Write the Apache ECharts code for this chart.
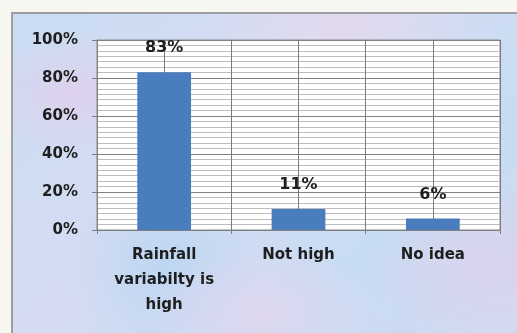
<!DOCTYPE html>
<html>
<head>
<meta charset="utf-8">
<script src="https://cdn.jsdelivr.net/npm/echarts@6/dist/echarts.min.js"></script>
<style>
  html, body { margin: 0; padding: 0; background: #f7f6f0; }
  #wrap { position: relative; width: 517px; height: 333px; overflow: hidden; }
  #frame {
    position: absolute; left: 11px; top: 12px; width: 520px; height: 330px;
    border-left: 2px solid #9c9ea4; border-top: 2px solid #9c9ea4;
    background:
      radial-gradient(ellipse 90px 60px at 60px 80px, rgba(226, 206, 236, 0.8), rgba(226, 206, 236, 0)),
      radial-gradient(ellipse 120px 70px at 250px 300px, rgba(232, 214, 238, 0.7), rgba(232, 214, 238, 0)),
      radial-gradient(ellipse 110px 80px at 470px 250px, rgba(224, 208, 236, 0.7), rgba(224, 208, 236, 0)),
      radial-gradient(ellipse 140px 60px at 330px 10px, rgba(236, 216, 236, 0.6), rgba(236, 216, 236, 0)),
      radial-gradient(ellipse 100px 90px at 150px 250px, rgba(180, 212, 242, 0.7), rgba(180, 212, 242, 0)),
      linear-gradient(135deg, #c9dcf2 0%, #d6dcf2 40%, #c7dcf3 70%, #d3d9f0 100%);
  }
  #chart { position: absolute; left: 0; top: 0; width: 517px; height: 333px; }
</style>
</head>
<body>
<div id="wrap">
  <div id="frame"></div>
  <div id="chart"></div>
</div>
<script>
// Survey responses on rainfall variability
const categories = ['Rainfall\nvariabilty is\nhigh', 'Not high', 'No idea'];
const shares = [83, 11, 6];
const yTicks = [0, 20, 40, 60, 80, 100];
// half-category slots used only to draw the vertical gridlines
const gridSlots = ['a', 'b', 'c', 'd', 'e', 'f'];

const font = 'DejaVu Sans';
const chart = echarts.init(document.getElementById('chart'), null, { renderer: 'canvas' });

chart.setOption({
  backgroundColor: 'transparent',
  animation: false,
  grid: {
    left: 97, top: 40, right: 17, bottom: 103,
    show: true, backgroundColor: '#ffffff', borderColor: '#8a8a8a', borderWidth: 1
  },
  xAxis: [
    {
      type: 'category',
      data: categories,
      axisLine: { show: true, lineStyle: { color: '#808080' } },
      axisTick: { show: true, length: 4, lineStyle: { color: '#808080' } },
      splitLine: { show: false },
      axisLabel: {
        fontFamily: font, fontWeight: 'bold', fontSize: 15, color: '#1e1e1e',
        lineHeight: 25, margin: 13, interval: 0
      }
    },
    {
      type: 'category',
      data: gridSlots,
      position: 'bottom',
      axisLine: { show: false },
      axisTick: { show: false },
      axisLabel: { show: false },
      splitLine: { show: true, lineStyle: { color: '#7a7a7a', width: 1 } }
    }
  ],
  yAxis: {
    type: 'value',
    min: yTicks[0],
    max: yTicks[yTicks.length - 1],
    interval: yTicks[1] - yTicks[0],
    axisLine: { show: true, lineStyle: { color: '#808080' } },
    axisTick: { show: true, length: 5, lineStyle: { color: '#808080' } },
    axisLabel: {
      fontFamily: font, fontWeight: 'bold', fontSize: 15, color: '#1e1e1e', margin: 19,
      formatter: v => v + '%'
    },
    splitLine: { show: true, lineStyle: { color: '#808080', width: 1 } },
    minorTick: { show: false, splitNumber: 7 },
    minorSplitLine: { show: true, lineStyle: { color: '#bdbdbd', width: 1 } }
  },
  series: [{
    type: 'bar',
    xAxisIndex: 0,
    data: shares,
    barWidth: '40%',
    itemStyle: { color: '#4a7dbd' },
    label: {
      show: true,
      position: 'top',
      distance: 16,
      fontFamily: font, fontWeight: 'bold', fontSize: 16, color: '#1e1e1e',
      formatter: p => p.value + '%'
    }
  }]
});
</script>
</body>
</html>
